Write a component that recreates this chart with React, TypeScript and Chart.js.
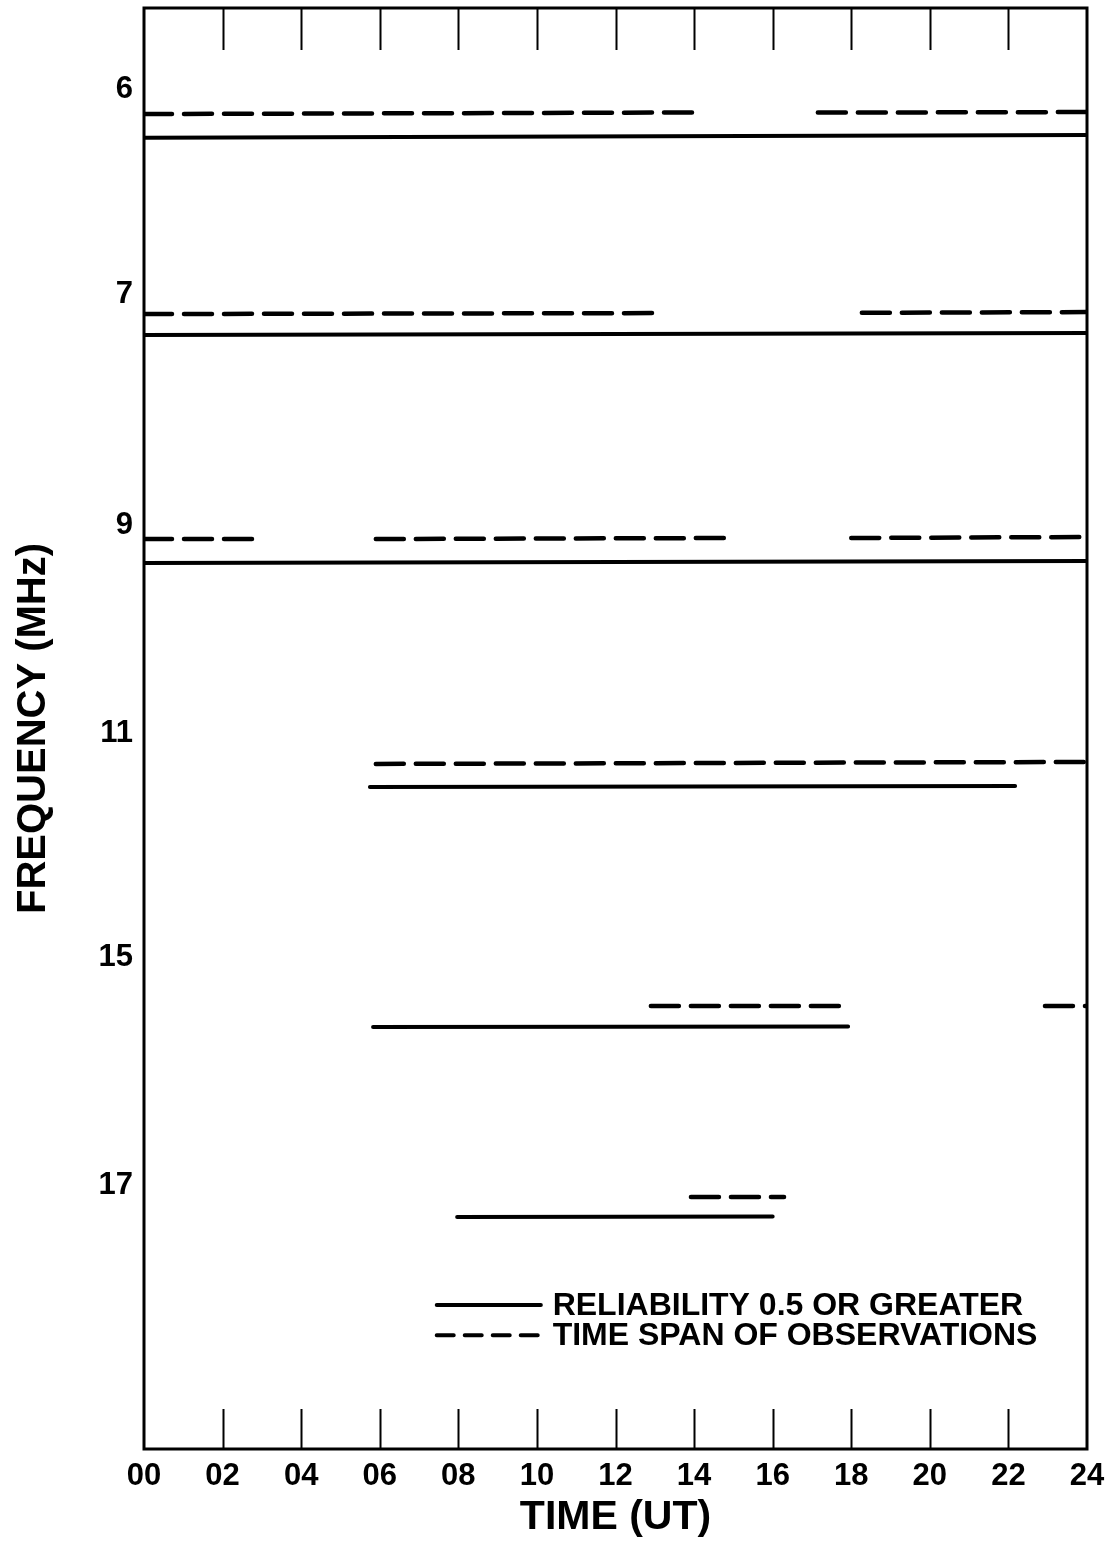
import React, { useEffect, useRef } from "react";
import { Chart, registerables } from "chart.js";

Chart.register(...registerables);

// Time axis (UT hours)
const hourMin = 0;
const hourMax = 24;
const hourStep = 2;
const innerTickHours = [2, 4, 6, 8, 10, 12, 14, 16, 18, 20, 22];

// Frequency rows: label text and row position (row units, 0 = top, 100 = bottom)
const freqLabels = ["6", "7", "9", "11", "15", "17"];
const freqRows = [5.65, 19.9, 35.9, 50.35, 65.9, 81.7];

// Reliability 0.5 or greater: [startHour, endHour, rowAtStart, rowAtEnd]
const reliabilitySpans: number[][] = [
  [0, 24, 9.0, 8.81],
  [0, 24, 22.69, 22.55],
  [0, 24, 38.51, 38.37],
  [5.75, 22.17, 54.06, 53.99],
  [5.83, 17.92, 70.72, 70.68],
  [7.97, 16.0, 83.9, 83.86],
];

// Time span of observations: [startHour, endHour, rowAtStart, rowAtEnd]
const observationSpans: number[][] = [
  [0, 13.97, 7.36, 7.25],
  [17.15, 24, 7.26, 7.22],
  [0, 13.08, 21.24, 21.17],
  [18.27, 24, 21.15, 21.1],
  [0, 2.9, 36.85, 36.85],
  [5.9, 14.94, 36.85, 36.78],
  [18.0, 24, 36.78, 36.71],
  [5.9, 24, 52.46, 52.32],
  [12.9, 17.92, 69.26, 69.26],
  [22.93, 24, 69.26, 69.26],
  [13.92, 16.29, 82.51, 82.51],
];

// Legend placement in axis units
const legendHours = [7.45, 10.1, 10.4]; // line start, line end, text start
const legendRows = [90.0, 92.1];
const legendTexts = ["RELIABILITY 0.5 OR GREATER", "TIME SPAN OF OBSERVATIONS"];

const FONT = '"Liberation Sans", Arial, Helvetica, sans-serif';

const framePlugin = {
  id: "frameAndLegend",
  afterDatasetsDraw(chart: any) {
    const { ctx, chartArea } = chart;
    const xs = chart.scales.x;
    const ys = chart.scales.y;
    ctx.save();
    ctx.strokeStyle = "#000";
    ctx.lineCap = "butt";

    // inner tick marks at top and bottom
    ctx.lineWidth = 2;
    innerTickHours.forEach((h) => {
      const px = Math.round(xs.getPixelForValue(h)) + 0.5;
      ctx.beginPath();
      ctx.moveTo(px, chartArea.top);
      ctx.lineTo(px, chartArea.top + 42);
      ctx.moveTo(px, chartArea.bottom - 40);
      ctx.lineTo(px, chartArea.bottom);
      ctx.stroke();
    });

    // plot frame
    ctx.lineWidth = 3;
    ctx.strokeRect(chartArea.left, chartArea.top, chartArea.right - chartArea.left, chartArea.bottom - chartArea.top);

    // legend
    const x0 = xs.getPixelForValue(legendHours[0]);
    const x1 = xs.getPixelForValue(legendHours[1]);
    const xt = xs.getPixelForValue(legendHours[2]);
    ctx.lineCap = "round";
    legendRows.forEach((row, i) => {
      const py = ys.getPixelForValue(row);
      ctx.lineWidth = 4;
      ctx.setLineDash(i === 0 ? [] : [17, 11]);
      ctx.beginPath();
      ctx.moveTo(x0, py);
      ctx.lineTo(x1, py);
      ctx.stroke();
      ctx.setLineDash([]);
      ctx.fillStyle = "#000";
      ctx.font = `bold 32px ${FONT}`;
      ctx.textAlign = "left";
      ctx.textBaseline = "middle";
      ctx.fillText(legendTexts[i], xt, py + 1);
    });
    ctx.restore();
  },
};

function spanDataset(span: number[], dashed: boolean) {
  return {
    data: [
      { x: span[0], y: span[2] },
      { x: span[1], y: span[3] },
    ],
    borderColor: "#000",
    borderWidth: dashed ? 4.5 : 4,
    borderDash: dashed ? [28, 12] : [],
    borderCapStyle: "round",
    pointRadius: 0,
    pointHoverRadius: 0,
    fill: false,
    tension: 0,
  };
}

export default function App() {
  const canvasRef = useRef<HTMLCanvasElement | null>(null);

  useEffect(() => {
    document.body.style.margin = "0";
    const canvas = canvasRef.current;
    if (!canvas) return;

    const datasets = [
      ...reliabilitySpans.map((s) => spanDataset(s, false)),
      ...observationSpans.map((s) => spanDataset(s, true)),
    ];

    const chart = new Chart(canvas, {
      type: "line",
      data: { datasets } as any,
      options: {
        animation: false,
        responsive: false,
        devicePixelRatio: 1,
        layout: { padding: { top: 8, right: 31, left: 0, bottom: 0 } },
        plugins: {
          legend: { display: false },
          tooltip: { enabled: false },
        },
        scales: {
          x: {
            type: "linear",
            min: hourMin,
            max: hourMax,
            grid: { display: false, drawTicks: false },
            border: { display: false },
            ticks: {
              stepSize: hourStep,
              color: "#000",
              padding: 9,
              maxRotation: 0,
              autoSkip: false,
              font: { family: FONT, size: 31, weight: "bold" },
              callback: (v: any) => String(v).padStart(2, "0"),
            },
            title: {
              display: true,
              text: "TIME (UT)",
              color: "#000",
              font: { family: FONT, size: 41, weight: "bold" },
              padding: { top: 0, bottom: 22 },
            },
            afterFit: (scale: any) => {
              scale.height = 115;
              scale.paddingLeft = 0;
              scale.paddingRight = 0;
            },
          },
          y: {
            type: "linear",
            min: 0,
            max: 100,
            reverse: true,
            grid: { display: false, drawTicks: false },
            border: { display: false },
            afterBuildTicks: (scale: any) => {
              scale.ticks = freqRows.map((v) => ({ value: v }));
            },
            ticks: {
              color: "#000",
              padding: 11,
              autoSkip: false,
              font: { family: FONT, size: 31, weight: "bold" },
              callback: (_v: any, i: number) => freqLabels[i],
            },
            title: {
              display: true,
              text: "FREQUENCY (MHz)",
              color: "#000",
              font: { family: FONT, size: 40, weight: "bold" },
              padding: { top: 10, bottom: 0 },
            },
            afterFit: (scale: any) => {
              scale.width = 144;
              scale.paddingTop = 0;
              scale.paddingBottom = 0;
            },
          },
        },
      } as any,
      plugins: [framePlugin],
    });

    return () => chart.destroy();
  }, []);

  return (
    <canvas
      ref={canvasRef}
      width={1118}
      height={1564}
      style={{ display: "block", width: 1118, height: 1564 }}
    />
  );
}
